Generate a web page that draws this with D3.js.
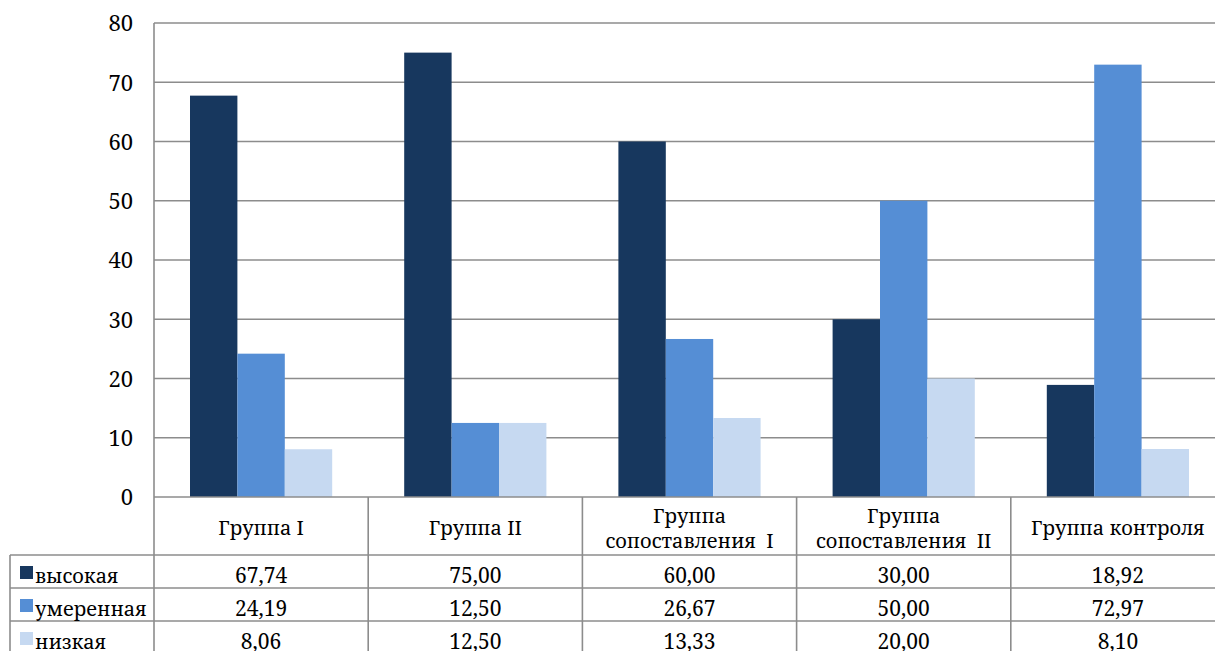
<!DOCTYPE html>
<html>
<head>
<meta charset="utf-8">
<script src="https://cdn.jsdelivr.net/npm/d3@7"></script>
<style>
  html, body { margin: 0; padding: 0; background: #fff; }
  svg { display: block; }
</style>
</head>
<body>
<svg id="chart" width="1215" height="651"></svg>
<script>
// Categories (each may wrap onto two lines in the table header)
const categories = ["Группа I", "Группа II", "Группа сопоставления  I", "Группа сопоставления  II", "Группа контроля"];
const categoryLines = [["Группа I"], ["Группа II"], ["Группа", "сопоставления  I"], ["Группа", "сопоставления  II"], ["Группа контроля"]];

// Series
const seriesNames = ["высокая", "умеренная", "низкая"];
const vysokaya   = [67.74, 75.00, 60.00, 30.00, 18.92];
const umerennaya = [24.19, 12.50, 26.67, 50.00, 72.97];
const nizkaya    = [8.06, 12.50, 13.33, 20.00, 8.10];
const seriesValues = [vysokaya, umerennaya, nizkaya];
const seriesColors = ["#17375E", "#558ED5", "#C6D9F1"];

// Axis ticks
const yTicks = [0, 10, 20, 30, 40, 50, 60, 70, 80];

const FONT = "'Noto Serif', 'DejaVu Serif', serif";

const svg = d3.select("#chart");
const plotLeft = 154, plotRight = 1225, plotTop = 23, plotBottom = 497;
const tableLeft = 10;
const headerBottom = 555, rowH = 33;
const gridColor = "#8c8c8c";

const x = d3.scaleBand().domain(categories).range([plotLeft, plotRight]).padding(0);
const xs = d3.scaleBand().domain(seriesNames).range([36, x.bandwidth() - 36]).padding(0);
const y = d3.scaleLinear().domain([0, 80]).range([plotBottom, plotTop]);

// Horizontal gridlines
svg.append("g")
  .selectAll("line")
  .data(yTicks.filter(d => d > 0))
  .join("line")
  .attr("x1", plotLeft).attr("x2", plotRight)
  .attr("y1", d => y(d)).attr("y2", d => y(d))
  .attr("stroke", gridColor).attr("stroke-width", 1.6);

// Y axis tick labels
const yAxis = d3.axisLeft(y).tickValues(yTicks).tickSize(0).tickPadding(21);
const yg = svg.append("g").attr("transform", `translate(${plotLeft},0)`).call(yAxis);
yg.attr("font-family", null).attr("font-size", null);
yg.select(".domain").remove();
yg.selectAll("text")
  .style("font-family", FONT).style("font-size", "22px")
  .attr("fill", "#000").attr("dy", "0.36em");

// Bars
const groups = svg.append("g").selectAll("g")
  .data(categories)
  .join("g")
  .attr("transform", d => `translate(${x(d)},0)`);

groups.selectAll("rect")
  .data((c, i) => seriesNames.map((s, k) => ({ s, k, v: seriesValues[k][i] })))
  .join("rect")
  .attr("x", d => xs(d.s))
  .attr("width", xs.bandwidth())
  .attr("y", d => y(d.v))
  .attr("height", d => y(0) - y(d.v))
  .attr("fill", d => seriesColors[d.k]);

// Data table grid
const tg = svg.append("g").attr("stroke", gridColor).attr("stroke-width", 1.6).attr("fill", "none");
tg.append("line").attr("x1", plotLeft).attr("x2", plotLeft).attr("y1", plotTop).attr("y2", 651);
tg.append("line").attr("x1", plotLeft).attr("x2", plotRight).attr("y1", plotBottom).attr("y2", plotBottom);
for (let r = 0; r <= 3; r++) {
  const yy = headerBottom + r * rowH;
  tg.append("line").attr("x1", tableLeft).attr("x2", plotRight).attr("y1", yy).attr("y2", yy);
}
tg.append("line").attr("x1", tableLeft).attr("x2", tableLeft).attr("y1", headerBottom).attr("y2", 651);
categories.forEach(c => {
  const xx = x(c) + x.bandwidth();
  tg.append("line").attr("x1", xx).attr("x2", xx).attr("y1", plotBottom).attr("y2", 651);
});

// Header labels
const hdr = svg.append("g");
categories.forEach((c, i) => {
  const lines = categoryLines[i];
  const cx = x(c) + x.bandwidth() / 2;
  const base = lines.length === 1 ? 535 : 523;
  lines.forEach((ln, j) => {
    hdr.append("text")
      .attr("x", cx).attr("y", base + j * 25)
      .attr("text-anchor", "middle")
      .style("font-family", FONT).style("font-size", "20px")
      .style("white-space", "pre")
      .text(ln);
  });
});

// Table rows: legend key + values
const fmt = v => v.toFixed(2).replace(".", ",");
seriesNames.forEach((s, k) => {
  const top = headerBottom + k * rowH;
  svg.append("rect")
    .attr("x", 20).attr("y", top + 11)
    .attr("width", 13).attr("height", 13)
    .attr("fill", seriesColors[k]);
  svg.append("text")
    .attr("x", 35).attr("y", top + 28)
    .style("font-family", FONT).style("font-size", "20px")
    .text(s);
  categories.forEach((c, i) => {
    svg.append("text")
      .attr("x", x(c) + x.bandwidth() / 2).attr("y", top + 28)
      .attr("text-anchor", "middle")
      .style("font-family", FONT).style("font-size", "21px")
      .text(fmt(seriesValues[k][i]));
  });
});
</script>
</body>
</html>
